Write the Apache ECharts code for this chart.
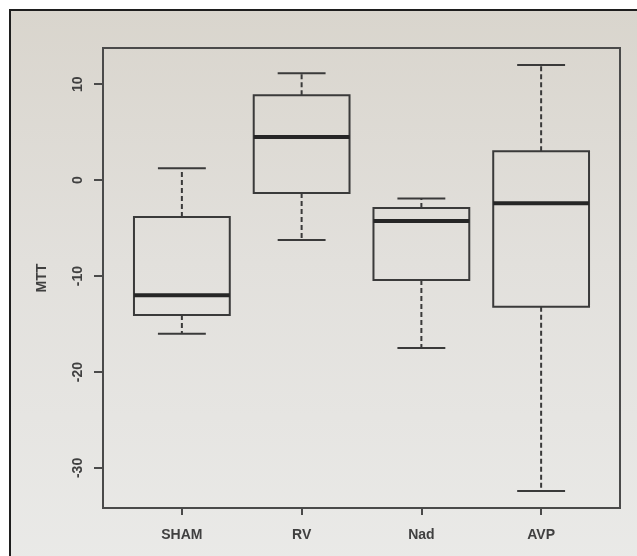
<!DOCTYPE html>
<html>
<head>
<meta charset="utf-8">
<script src="https://cdn.jsdelivr.net/npm/echarts@6/dist/echarts.min.js"></script>
<style>
  html, body { margin: 0; padding: 0; background: #ffffff; }
  #chart { width: 637px; height: 556px; }
</style>
</head>
<body>
<div id="chart"></div>
<script>
// ---- data ----
const categories = ['SHAM', 'RV', 'Nad', 'AVP'];
const whiskerLow  = [-16.0, -6.25, -17.5, -32.4];
const quartile1   = [-14.05, -1.35, -10.4, -13.2];
const medians     = [-12.0, 4.5, -4.25, -2.4];
const quartile3   = [-3.85, 8.85, -2.9, 3.0];
const whiskerHigh = [1.25, 11.15, -1.9, 12.0];
const yTicks = [-30, -20, -10, 0, 10];
const yTitle = 'MTT';

// R-style 4% range extension
const dMin = Math.min(...whiskerLow), dMax = Math.max(...whiskerHigh);
const ext = (dMax - dMin) * 0.04;
const yMin = dMin - ext, yMax = dMax + ext;

const boxData = categories.map((c, i) => [i, whiskerLow[i], quartile1[i], medians[i], quartile3[i], whiskerHigh[i]]);

const lineColor = '#3a3a3a';
const textColor = '#404040';
const font = 'Liberation Sans, Arial, Helvetica, sans-serif';

const chart = echarts.init(document.getElementById('chart'), null, { renderer: 'canvas' });

chart.setOption({
  backgroundColor: '#ffffff',
  animation: false,
  graphic: [{
    type: 'rect',
    z: -10,
    silent: true,
    shape: { x: 10, y: 10, width: 640, height: 560 },
    style: {
      fill: new echarts.graphic.LinearGradient(0, 0, 0, 1, [
        { offset: 0, color: '#d9d5cd' },
        { offset: 0.45, color: '#e2e0dc' },
        { offset: 1, color: '#eaeae8' }
      ]),
      stroke: '#1e1e1e',
      lineWidth: 2
    }
  }],
  grid: [
    { left: 103, right: 17, top: 48, bottom: 48, show: true, borderColor: '#4a4a4a', borderWidth: 2, backgroundColor: 'transparent' },
    { left: 122, right: 36, top: 48, bottom: 48, show: false }
  ],
  xAxis: [
    { type: 'value', gridIndex: 0, min: 0, max: 1, show: false },
    {
      type: 'category', gridIndex: 1, data: categories, boundaryGap: true, position: 'bottom',
      axisLine: { show: false, onZero: false },
      axisTick: { show: true, alignWithLabel: true, length: 7, lineStyle: { color: '#4a4a4a', width: 2 } },
      axisLabel: { show: true, margin: 20, fontSize: 14, fontWeight: 'bold', color: textColor, fontFamily: font },
      splitLine: { show: false }
    }
  ],
  yAxis: [
    {
      type: 'value', gridIndex: 0, min: yMin, max: yMax,
      axisLine: { show: false },
      axisTick: { show: true, length: 9, customValues: yTicks, lineStyle: { color: '#4a4a4a', width: 2 } },
      axisLabel: { show: true, rotate: 90, margin: 18, fontSize: 14, fontWeight: 'bold', color: textColor, fontFamily: font, customValues: yTicks },
      splitLine: { show: false },
      name: yTitle, nameLocation: 'middle', nameGap: 54, nameRotate: 90,
      nameTextStyle: { fontSize: 14, fontWeight: 'bold', color: textColor, fontFamily: font }
    },
    { type: 'value', gridIndex: 1, min: yMin, max: yMax, show: false }
  ],
  series: [{
    type: 'custom',
    xAxisIndex: 1, yAxisIndex: 1,
    data: boxData,
    encode: { x: 0, y: [1, 2, 3, 4, 5] },
    renderItem: function (params, api) {
      const xi = api.value(0);
      const lo = api.coord([xi, api.value(1)]);
      const q1 = api.coord([xi, api.value(2)]);
      const md = api.coord([xi, api.value(3)]);
      const q3 = api.coord([xi, api.value(4)]);
      const hi = api.coord([xi, api.value(5)]);
      const band = api.size([1, 0])[0];
      const hb = band * 0.8 / 2;
      const hc = band * 0.4 / 2;
      const cx = lo[0];
      const solid = { stroke: lineColor, lineWidth: 2, fill: null };
      const dashed = { stroke: lineColor, lineWidth: 2, lineDash: [5, 3] };
      return {
        type: 'group',
        children: [
          { type: 'line', shape: { x1: cx, y1: q3[1], x2: cx, y2: hi[1] }, style: dashed },
          { type: 'line', shape: { x1: cx, y1: q1[1], x2: cx, y2: lo[1] }, style: dashed },
          { type: 'line', shape: { x1: cx - hc, y1: hi[1], x2: cx + hc, y2: hi[1] }, style: solid },
          { type: 'line', shape: { x1: cx - hc, y1: lo[1], x2: cx + hc, y2: lo[1] }, style: solid },
          { type: 'rect', shape: { x: cx - hb, y: q3[1], width: hb * 2, height: q1[1] - q3[1] }, style: { stroke: lineColor, lineWidth: 2, fill: 'transparent' } },
          { type: 'line', shape: { x1: cx - hb, y1: md[1], x2: cx + hb, y2: md[1] }, style: { stroke: '#262626', lineWidth: 4 } }
        ]
      };
    }
  }]
});
</script>
</body>
</html>
